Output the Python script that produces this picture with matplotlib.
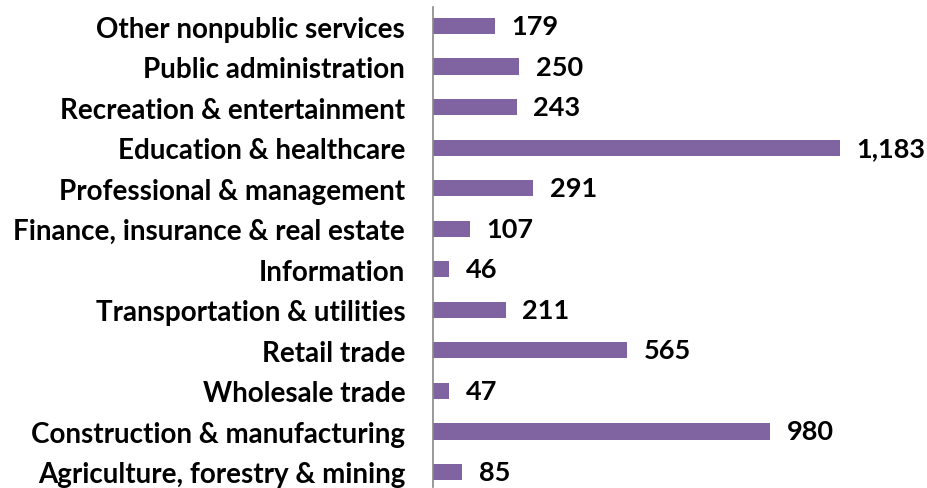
import matplotlib.pyplot as plt

# Categories listed bottom to top
categories = [
    "Agriculture, forestry & mining",
    "Construction & manufacturing",
    "Wholesale trade",
    "Retail trade",
    "Transportation & utilities",
    "Information",
    "Finance, insurance & real estate",
    "Professional & management",
    "Education & healthcare",
    "Recreation & entertainment",
    "Public administration",
    "Other nonpublic services",
]
values = [85, 980, 47, 565, 211, 46, 107, 291, 1183, 243, 250, 179]

bar_color = "#8064A2"
plt.rcParams["font.family"] = ["Lato", "DejaVu Sans"]

fig = plt.figure(figsize=(9.27, 4.89), dpi=100)
# axes: left edge at the vertical axis line, spanning to right edge
ax = fig.add_axes([433 / 927, 1 - 488 / 489, 1 - 433 / 927, 480 / 489])

y = range(len(categories))
ax.barh(y, values, height=0.4, color=bar_color)

for yi, v in zip(y, values):
    ax.annotate(f"{v:,}", (v, yi), xytext=(12, 0), textcoords="offset points",
                ha="left", va="center", fontsize=19.5, fontweight="bold")

ax.set_yticks(list(y))
ax.set_yticklabels(categories, fontsize=20, fontweight="bold")
ax.tick_params(axis="y", length=0, pad=20)
ax.set_xticks([])
ax.set_xlim(0, 1436)
ax.set_ylim(-0.37, 11.47)

for side in ["top", "right", "bottom"]:
    ax.spines[side].set_visible(False)
ax.spines["left"].set_color("#888888")
ax.spines["left"].set_linewidth(1.2)

fig.savefig("out.png", dpi=100)
